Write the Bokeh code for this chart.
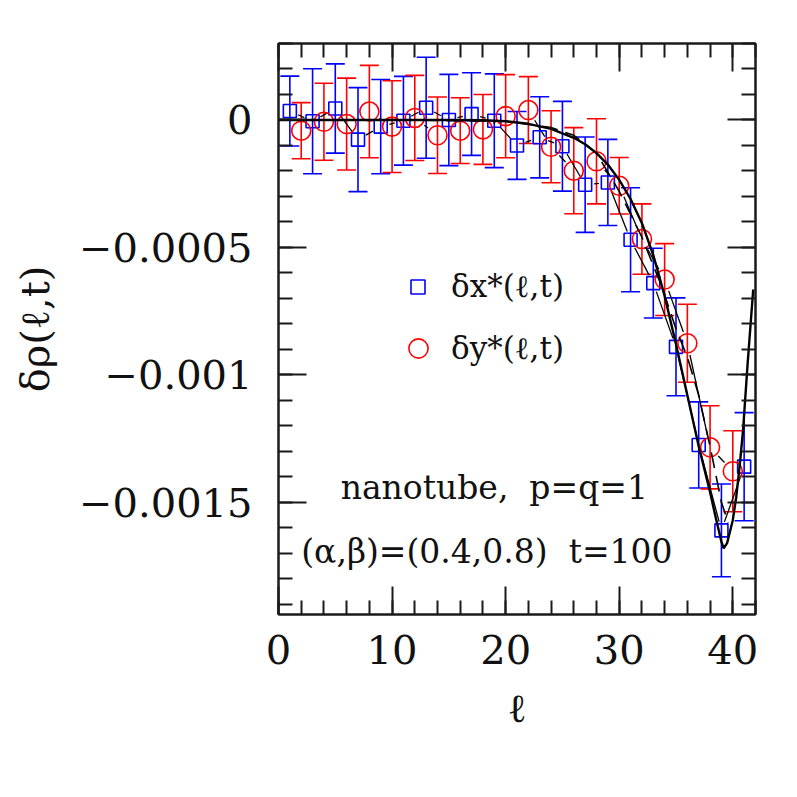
import numpy as np
from bokeh.plotting import figure
from bokeh.models import (ColumnDataSource, Whisker, TeeHead, FixedTicker, LinearAxis,
                          Legend, LegendItem, Label, Range1d)
from bokeh.embed import file_html
from bokeh.resources import INLINE

# ---------------- data ----------------
ell_x = [1, 3, 5, 7, 9, 11, 13, 15, 17, 19, 21, 23, 25, 27, 29, 31, 33, 35, 37, 39, 41]
dx_star = [0.35e-4, -0.05e-4, 0.45e-4, -0.77e-4, -0.26e-4, -0.03e-4, 0.48e-4, 0.0, 0.23e-4,
           -0.03e-4, -1.0e-4, -0.68e-4, -1.03e-4, -2.54e-4, -2.45e-4, -4.7e-4, -6.4e-4,
           -8.9e-4, -12.75e-4, -16.1e-4, -13.6e-4]
dx_err = [1.37e-4, 2.06e-4, 1.75e-4, 2.04e-4, 1.85e-4, 1.74e-4, 1.98e-4, 1.79e-4, 1.62e-4,
          1.84e-4, 1.33e-4, 1.59e-4, 1.76e-4, 1.87e-4, 1.69e-4, 2.04e-4, 1.37e-4, 1.92e-4,
          1.69e-4, 1.82e-4, 2.12e-4]

ell_y = [2, 4, 6, 8, 10, 12, 14, 16, 18, 20, 22, 24, 26, 28, 30, 32, 34, 36, 38, 40]
dy_star = [-0.42e-4, -0.07e-4, -0.16e-4, 0.33e-4, -0.26e-4, 0.08e-4, -0.6e-4, -0.42e-4,
           -0.37e-4, 0.15e-4, 0.39e-4, -1.05e-4, -1.99e-4, -1.62e-4, -2.58e-4, -4.67e-4,
           -6.26e-4, -8.76e-4, -12.84e-4, -13.78e-4]
dy_err = [1.1e-4, 1.51e-4, 1.8e-4, 1.81e-4, 1.8e-4, 1.67e-4, 1.5e-4, 1.29e-4, 1.37e-4,
          1.63e-4, 1.31e-4, 1.41e-4, 1.69e-4, 1.67e-4, 1.11e-4, 1.38e-4, 1.41e-4, 1.53e-4,
          1.63e-4, 1.59e-4]

theory_ell = [0, 5, 10, 15, 18, 20, 22, 24, 26, 27, 28, 29, 30, 31, 32, 33, 34, 35, 36, 37,
              38, 38.5, 39.0, 39.2, 39.5, 40.0, 40.3, 40.6, 40.9, 41.3, 41.8]
theory_val = [0, 0, 0, 0, -0.01e-4, -0.05e-4, -0.15e-4, -0.35e-4, -0.7e-4, -0.95e-4,
              -1.3e-4, -1.75e-4, -2.35e-4, -3.1e-4, -4.05e-4, -5.3e-4, -6.9e-4, -8.8e-4,
              -10.8e-4, -12.8e-4, -14.6e-4, -15.6e-4, -16.55e-4, -16.8e-4, -16.6e-4,
              -15.7e-4, -14.8e-4, -13.6e-4, -12.2e-4, -9.6e-4, -6.65e-4]

dashed_ell = [0, 10, 20, 24, 26, 28, 30, 32, 33.8, 35, 36, 37, 38, 39, 39.6]
dashed_val = [0, 0, -0.05e-4, -0.3e-4, -0.6e-4, -1.3e-4, -2.8e-4, -4.6e-4, -6.6e-4, -8.2e-4,
              -9.3e-4, -10.8e-4, -12.8e-4, -15.0e-4, -15.8e-4]

x_ticks = [0, 10, 20, 30, 40]
x_minor_ticks = list(range(0, 43, 2))
y_ticks = [-0.0015, -0.001, -0.0005, 0.0]
y_tick_labels = ["\u22120.0015", "\u22120.001", "\u22120.0005", "0"]
y_minor_ticks = [round(-0.0019 + 0.0001 * k, 4) for k in range(23)]

legend_labels = ["\u03b4x*(\u2113,t)", "\u03b4y*(\u2113,t)"]
note_lines = ["nanotube,\u00a0 p=q=1", "(\u03b1,\u03b2)=(0.4,0.8)\u00a0 t=100"]
x_label = "\u2113"
y_label = "\u03b4\u03c1(\u2113,t)"

# ---------------- figure ----------------
X0, X1 = 0, 42
Y0, Y1 = -0.00194, 0.0003
FW, FH = 477, 571
FONT = "DejaVu Serif"
AX = "#1a1a1a"

p = figure(frame_width=FW, frame_height=FH, x_range=Range1d(X0, X1), y_range=Range1d(Y0, Y1),
           output_backend="svg", toolbar_location=None,
           min_border_left=278, min_border_top=43, min_border_right=25, min_border_bottom=125)
p.grid.visible = False
p.outline_line_color = AX
p.outline_line_width = 2
p.background_fill_color = "white"
p.border_fill_color = "white"


def style_axis(ax, ticks, minor, show_labels):
    ax.ticker = FixedTicker(ticks=ticks, minor_ticks=minor)
    ax.major_tick_in = 28
    ax.major_tick_out = 0
    ax.minor_tick_in = 14
    ax.minor_tick_out = 0
    ax.major_tick_line_width = 2
    ax.minor_tick_line_width = 2
    ax.axis_line_width = 2
    ax.axis_line_color = AX
    ax.major_tick_line_color = AX
    ax.minor_tick_line_color = AX
    if show_labels:
        ax.major_label_text_font = FONT
        ax.major_label_text_font_size = "40px"
        ax.major_label_text_color = "#111111"
    else:
        ax.major_label_text_font_size = "1px"
        ax.major_label_text_alpha = 0
        ax.major_label_standoff = 0


xb = p.xaxis[0]
yl = p.yaxis[0]
style_axis(xb, x_ticks, x_minor_ticks, True)
style_axis(yl, y_ticks, y_minor_ticks, True)
yl.major_label_overrides = {v: s for v, s in zip(y_ticks, y_tick_labels)}
xb.major_label_standoff = 20
yl.major_label_standoff = 26
xb.axis_label = x_label
yl.axis_label = y_label
for ax in (xb, yl):
    ax.axis_label_text_font = FONT
    ax.axis_label_text_font_size = "40px"
    ax.axis_label_text_font_style = "normal"
    ax.axis_label_text_color = "#111111"
xb.axis_label_standoff = 18
yl.axis_label_standoff = 18

xt = LinearAxis()
yr = LinearAxis()
style_axis(xt, x_ticks, x_minor_ticks, False)
style_axis(yr, y_ticks, y_minor_ticks, False)
p.add_layout(xt, "above")
p.add_layout(yr, "right")

# ---------------- error bars ----------------
src_x = ColumnDataSource(dict(l=ell_x, v=dx_star,
                              up=[v + e for v, e in zip(dx_star, dx_err)],
                              lo=[v - e for v, e in zip(dx_star, dx_err)]))
src_y = ColumnDataSource(dict(l=ell_y, v=dy_star,
                              up=[v + e for v, e in zip(dy_star, dy_err)],
                              lo=[v - e for v, e in zip(dy_star, dy_err)]))

for src, col in ((src_x, "#0000ff"), (src_y, "#ff0000")):
    w = Whisker(source=src, base="l", upper="up", lower="lo", dimension="height",
                line_color=col, line_width=1.6,
                upper_head=TeeHead(size=19, line_color=col, line_width=1.6),
                lower_head=TeeHead(size=19, line_color=col, line_width=1.6))
    p.add_layout(w)

# ---------------- thin connecting lines with gaps around markers ----------------
kx = FW / (X1 - X0)
ky = FH / (Y1 - Y0)


def gapped_segments(ls, vs, r):
    px = np.asarray(ls, float) * kx
    py = np.asarray(vs, float) * ky
    dxp = np.diff(px)
    dyp = np.diff(py)
    d = np.hypot(dxp, dyp)
    ux, uy = dxp / d, dyp / d
    keep = d > 2 * r + 2
    return dict(x0=((px[:-1] + r * ux) / kx)[keep], y0=((py[:-1] + r * uy) / ky)[keep],
                x1=((px[1:] - r * ux) / kx)[keep], y1=((py[1:] - r * uy) / ky)[keep])


p.segment(source=ColumnDataSource(gapped_segments(ell_x, dx_star, 9)), x0="x0", y0="y0",
          x1="x1", y1="y1", line_color="black", line_width=1.3)
p.segment(source=ColumnDataSource(gapped_segments(ell_y, dy_star, 12)), x0="x0", y0="y0",
          x1="x1", y1="y1", line_color="black", line_width=1.3)

# ---------------- markers ----------------
sq = p.scatter("l", "v", source=src_x, marker="square", size=13, fill_color=None,
               line_color="#0000ff", line_width=1.6)
ci = p.scatter("l", "v", source=src_y, marker="circle", size=19, fill_color=None,
               line_color="#ff0000", line_width=1.6)

# ---------------- theory curves ----------------
p.line(dashed_ell, dashed_val, line_color="black", line_width=1.6, line_dash="16 8")
p.line(theory_ell, theory_val, line_color="black", line_width=2.4)

# ---------------- legend ----------------
for item_label, rend, gsize, loc, stand in (
        (legend_labels[0], sq, 35, (122, 309), 16),
        (legend_labels[1], ci, 48, (116, 242), 9)):
    leg = Legend(items=[LegendItem(label=item_label, renderers=[rend])], location=loc,
                 glyph_width=gsize, glyph_height=gsize, label_standoff=stand,
                 label_text_font=FONT, label_text_font_size="31px", label_text_color="#111111",
                 padding=0, margin=0, spacing=0, border_line_color=None,
                 background_fill_alpha=0)
    p.add_layout(leg, "center")

# ---------------- annotation ----------------
p.add_layout(Label(x=19.0, y=-0.001442, text=note_lines[0], text_align="center",
                   text_baseline="alphabetic", text_font=FONT, text_font_size="33px",
                   text_color="#111111"))
p.add_layout(Label(x=18.35, y=-0.001693, text=note_lines[1], text_align="center",
                   text_baseline="alphabetic", text_font=FONT, text_font_size="33px",
                   text_color="#111111"))

open("out.html", "w").write(file_html(p, INLINE))
